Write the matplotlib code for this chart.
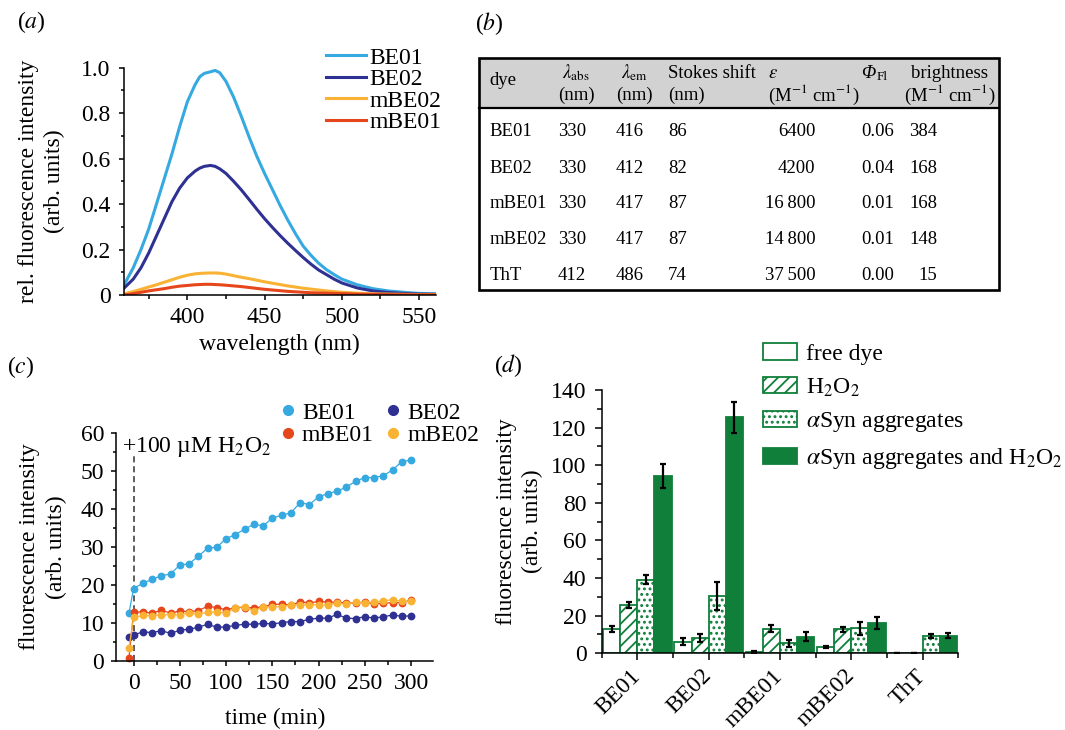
import numpy as np
import matplotlib
matplotlib.use("Agg")
import matplotlib.pyplot as plt
from matplotlib.patches import Rectangle, Patch
from matplotlib.lines import Line2D
from matplotlib.ticker import MultipleLocator, FixedLocator

plt.rcParams['font.family'] = ['Liberation Serif', 'DejaVu Serif']
plt.rcParams['mathtext.fontset'] = 'stix'
plt.rcParams['font.size'] = 17
plt.rcParams['hatch.linewidth'] = 1.3

W, H = 1065, 730

# colours
c_be01 = '#36a9e1'
c_be02 = '#2e3192'
c_mbe01 = '#e6461c'
c_mbe02 = '#f9b234'
green = '#0f7f3a'

# ---- (a) emission spectra ----
wl = [359, 365, 370, 375, 380, 385, 390, 395, 400, 405, 408, 411, 415, 418, 421, 425,
      430, 435, 440, 445, 450, 455, 460, 465, 470, 475, 480, 485, 490, 495, 500,
      510, 520, 530, 540, 550, 561]
em_be01 = [0.044, 0.12, 0.20, 0.29, 0.40, 0.51, 0.62, 0.74, 0.85, 0.925, 0.96, 0.975, 0.982,
           0.988, 0.978, 0.94, 0.87, 0.785, 0.695, 0.61, 0.535, 0.465, 0.395, 0.33, 0.27,
           0.215, 0.175, 0.14, 0.112, 0.09, 0.07, 0.045, 0.028, 0.018, 0.012, 0.007, 0.005]
em_be02 = [0.03, 0.07, 0.12, 0.185, 0.26, 0.335, 0.41, 0.47, 0.515, 0.545, 0.558, 0.566,
           0.57, 0.566, 0.555, 0.535, 0.50, 0.462, 0.42, 0.377, 0.336, 0.298, 0.262, 0.228,
           0.196, 0.165, 0.136, 0.11, 0.09, 0.07, 0.053, 0.031, 0.018, 0.011, 0.007, 0.004,
           0.003]
em_mbe02 = [0.005, 0.015, 0.025, 0.035, 0.045, 0.056, 0.067, 0.078, 0.087, 0.093, 0.095,
            0.096, 0.097, 0.097, 0.096, 0.092, 0.085, 0.078, 0.072, 0.065, 0.058, 0.052,
            0.046, 0.04, 0.035, 0.03, 0.026, 0.022, 0.018, 0.015, 0.012, 0.008, 0.005,
            0.004, 0.003, 0.002, 0.002]
em_mbe01 = [0.0, 0.006, 0.012, 0.018, 0.023, 0.028, 0.034, 0.039, 0.042, 0.045, 0.046,
            0.047, 0.047, 0.046, 0.045, 0.043, 0.04, 0.037, 0.033, 0.029, 0.025, 0.022,
            0.019, 0.016, 0.014, 0.012, 0.010, 0.009, 0.008, 0.007, 0.006, 0.004, 0.003,
            0.002, 0.001, 0.001, 0.001]

# ---- (b) table ----
tab_dyes = ['BE01', 'BE02', 'mBE01', 'mBE02', 'ThT']
tab_abs = ['330', '330', '330', '330', '412']
tab_em = ['416', '412', '417', '417', '486']
tab_stokes = ['86', '82', '87', '87', '74']
tab_eps = ['6400', '4200', '16\u2009800', '14\u2009800', '37\u2009500']
tab_qy = ['0.06', '0.04', '0.01', '0.01', '0.00']
tab_bright = ['384', '168', '168', '148', '15']

# ---- (c) kinetics ----
t_min = [-5, 0, 10, 20, 30, 40, 50, 60, 70, 80, 90, 100, 110, 120, 130, 140, 150, 160,
         170, 180, 190, 200, 210, 220, 230, 240, 250, 260, 270, 280, 290, 300]
kin_be01 = [12.5, 19.0, 20.4, 21.4, 22.4, 22.8, 25.2, 25.5, 27.5, 29.6, 29.9, 32.1, 33.2,
            34.6, 35.9, 35.5, 37.5, 38.3, 38.9, 41.6, 41.1, 43.1, 44.0, 44.6, 45.7, 47.2,
            48.2, 48.2, 48.7, 50.2, 52.4, 52.8]
kin_be02 = [6.3, 6.75, 7.6, 7.4, 7.9, 7.2, 8.0, 8.3, 8.8, 9.6, 8.8, 8.9, 9.3, 9.6, 9.6, 9.8,
            9.7, 10.0, 10.3, 10.3, 10.9, 11.2, 11.2, 12.2, 11.2, 11.1, 11.6, 11.2, 11.6,
            12.0, 11.7, 11.8]
kin_mbe01 = [0.7, 12.7, 12.9, 12.5, 13.3, 12.5, 13.1, 12.9, 13.2, 14.3, 14.0, 13.4, 14.0,
             14.0, 13.9, 14.2, 14.8, 14.9, 14.6, 15.5, 15.2, 15.6, 15.4, 15.4, 15.2, 15.2,
             15.4, 15.0, 15.1, 15.3, 15.3, 15.9]
kin_mbe02 = [3.3, 11.4, 11.9, 11.8, 12.1, 12.1, 12.1, 12.5, 12.2, 12.8, 12.8, 12.5, 14.0,
             14.2, 13.1, 14.2, 14.2, 14.2, 14.7, 14.7, 14.7, 14.7, 14.6, 15.2, 14.9, 15.4,
             15.3, 15.5, 15.7, 16.1, 15.6, 15.6]
h2o2_time = 0

# ---- (d) bars ----
groups = ['BE01', 'BE02', 'mBE01', 'mBE02', 'ThT']
free_dye = [12.8, 6.2, 0.7, 3.5, 0.3]
free_dye_err = [1.6, 1.8, 0.3, 0.6, 0.0]
with_h2o2 = [25.7, 8.3, 13.1, 12.8, 0.3]
with_h2o2_err = [1.8, 2.2, 2.0, 1.3, 0.0]
with_asyn = [39.0, 30.5, 5.3, 13.3, 9.2]
with_asyn_err = [2.4, 7.4, 2.0, 3.4, 1.2]
with_both = [94.4, 125.4, 8.9, 16.1, 9.4]
with_both_err = [6.5, 8.0, 2.4, 3.0, 1.5]


fig = plt.figure(figsize=(W / 100, H / 100), dpi=100)


def px_axes(l, t, r, b):
    return fig.add_axes([l / W, 1 - b / H, (r - l) / W, (b - t) / H])


def style_axes(ax, tl=3.6, lw=1.1):
    for s in ['top', 'right']:
        ax.spines[s].set_visible(False)
    for s in ['left', 'bottom']:
        ax.spines[s].set_linewidth(lw)
    ax.tick_params(which='major', direction='out', length=tl, width=lw, labelsize=17)
    ax.tick_params(which='minor', direction='out', length=tl * 0.7, width=lw)


# panel a
ax_a = px_axes(124, 67.7, 436, 295)
ax_a.plot(wl, em_be01, color=c_be01, lw=2.2, label='BE01')
ax_a.plot(wl, em_be02, color=c_be02, lw=2.2, label='BE02')
ax_a.plot(wl, em_mbe02, color=c_mbe02, lw=2.2, label='mBE02')
ax_a.plot(wl, em_mbe01, color=c_mbe01, lw=2.2, label='mBE01')
ax_a.set_xlim(359, 561)
ax_a.set_ylim(0, 1.0)
style_axes(ax_a)
ax_a.set_xticks([400, 450, 500, 550])
ax_a.xaxis.set_minor_locator(MultipleLocator(25))
ax_a.set_yticks([0, 0.2, 0.4, 0.6, 0.8, 1.0])
ax_a.set_yticklabels(['0', '0.2', '0.4', '0.6', '0.8', '1.0'])
ax_a.yaxis.set_minor_locator(MultipleLocator(0.1))
ax_a.tick_params(axis='x', pad=5)
ax_a.tick_params(axis='y', pad=6)
ax_a.set_xlabel('wavelength (nm)', fontsize=17)
ax_a.set_ylabel('rel. fluorescence intensity\n(arb. units)', fontsize=17, linespacing=1.3)
ax_a.xaxis.set_label_coords(0.498, -0.17)
ax_a.yaxis.set_label_coords(-0.19, 0.5)
ax_a.legend(loc='upper left', bbox_to_anchor=(326 / W, 1 - 47 / H),
            bbox_transform=fig.transFigure, frameon=False, fontsize=17,
            handlelength=1.7, handletextpad=0.15, labelspacing=0.0, borderpad=0,
            borderaxespad=0)

# panel b: table
ax_b = px_axes(478.8, 58.3, 999.3, 290)
ax_b.set_xlim(478.8, 999.3)
ax_b.set_ylim(290, 58.3)
ax_b.axis('off')
ax_b.add_patch(Rectangle((478.8, 58.3), 520.5, 49.4, facecolor='#d2d2d2', edgecolor='none'))
ax_b.add_patch(Rectangle((478.8, 58.3), 520.5, 231.7, fill=False, edgecolor='k', lw=1.9,
                         clip_on=False))
ax_b.plot([478.8, 999.3], [107.7, 107.7], color='k', lw=1.6, clip_on=False)
fs_t = 13.5
y1, y2 = 73, 95
ax_b.text(489.3, 80, 'dye', fontsize=fs_t, va='center')
ax_b.text(576, y1, r'$\lambda_{\rm abs}$', fontsize=fs_t, va='center', ha='center')
ax_b.text(576, y2, '(nm)', fontsize=fs_t, va='center', ha='center')
ax_b.text(634, y1, r'$\lambda_{\rm em}$', fontsize=fs_t, va='center', ha='center')
ax_b.text(634, y2, '(nm)', fontsize=fs_t, va='center', ha='center')
ax_b.text(668.2, y1, 'Stokes shift', fontsize=fs_t, va='center')
ax_b.text(668.2, y2, '(nm)', fontsize=fs_t, va='center')
ax_b.text(768.1, y1, r'$\varepsilon$', fontsize=fs_t, va='center')
ax_b.text(768.1, y2, '(M$^{-1}$ cm$^{-1}$)', fontsize=fs_t, va='center')
ax_b.text(861, y1, '\u03a6', fontsize=fs_t, fontstyle='italic', va='center')
ax_b.text(877, y1 + 4, 'Fl', fontsize=9.5, va='center')
ax_b.text(949.7, y1, 'brightness', fontsize=fs_t, va='center', ha='center')
ax_b.text(949.7, y2, '(M$^{-1}$ cm$^{-1}$)', fontsize=fs_t, va='center', ha='center')
row_y = [131.7, 168.3, 204, 240, 276]
for i, ry in enumerate(row_y):
    ax_b.text(489.3, ry, tab_dyes[i], fontsize=fs_t, va='center')
    ax_b.text(557.7, ry, tab_abs[i], fontsize=fs_t, va='center')
    ax_b.text(615.6, ry, tab_em[i], fontsize=fs_t, va='center')
    ax_b.text(668.2, ry, tab_stokes[i], fontsize=fs_t, va='center')
    ax_b.text(815.5, ry, tab_eps[i], fontsize=fs_t, va='center', ha='right')
    ax_b.text(861, ry, tab_qy[i], fontsize=fs_t, va='center')
    ax_b.text(937.5, ry, tab_bright[i], fontsize=fs_t, va='center', ha='right')

# panel c
ax_c = px_axes(116, 432.7, 433.3, 660.7)
ax_c.vlines(h2o2_time, 0, 54, colors='#333333', linestyles=(0, (4, 2.5)), lw=1.1)
for vals, col in [(kin_be01, c_be01), (kin_be02, c_be02), (kin_mbe01, c_mbe01),
                  (kin_mbe02, c_mbe02)]:
    ax_c.plot(t_min, vals, '-o', color=col, lw=0.9, ms=4.6, clip_on=False)
ax_c.set_xlim(-19, 324)
ax_c.set_ylim(0, 60)
style_axes(ax_c)
ax_c.set_xticks([0, 50, 100, 150, 200, 250, 300])
ax_c.xaxis.set_minor_locator(MultipleLocator(25))
ax_c.set_yticks([0, 10, 20, 30, 40, 50, 60])
ax_c.yaxis.set_minor_locator(MultipleLocator(5))
ax_c.tick_params(axis='x', pad=5)
ax_c.tick_params(axis='y', pad=5)
ax_c.set_xlabel('time (min)', fontsize=17)
ax_c.set_ylabel('fluorescence intensity\n(arb. units)', fontsize=17, linespacing=1.35)
ax_c.xaxis.set_label_coords(0.501, -0.205)
ax_c.yaxis.set_label_coords(-0.155, 0.5)
ax_c.text(-12.5, 55, '+100 µM H$_2$O$_2$', fontsize=17, va='baseline')
leg_c = [Line2D([], [], ls='none', marker='o', color=c_be01, ms=7),
         Line2D([], [], ls='none', marker='o', color=c_mbe01, ms=7),
         Line2D([], [], ls='none', marker='o', color=c_be02, ms=7),
         Line2D([], [], ls='none', marker='o', color=c_mbe02, ms=7)]
ax_c.legend(leg_c, ['BE01', 'mBE01', 'BE02', 'mBE02'], ncol=2, loc='upper left',
            bbox_to_anchor=(276 / W, 1 - 402 / H), bbox_transform=fig.transFigure,
            frameon=False, fontsize=17, handlelength=1.0, handletextpad=0.1,
            columnspacing=0.3, labelspacing=0.05, borderpad=0, borderaxespad=0)

# panel d
ax_d = px_axes(601.7, 390, 958.3, 653.3)
x = np.arange(len(groups))
bw = 0.24
ekw = dict(ecolor='k', elinewidth=1.6, capsize=2.4, capthick=1.6)
ax_d.bar(x - 1.5 * bw, free_dye, bw, yerr=free_dye_err, facecolor='white',
         edgecolor=green, lw=1.3, error_kw=ekw)
ax_d.bar(x - 0.5 * bw, with_h2o2, bw, yerr=with_h2o2_err, facecolor='white',
         edgecolor=green, lw=1.3, hatch='///', error_kw=ekw)
ax_d.bar(x + 0.5 * bw, with_asyn, bw, yerr=with_asyn_err, facecolor='white',
         edgecolor=green, lw=1.3, hatch='...', error_kw=ekw)
ax_d.bar(x + 1.5 * bw, with_both, bw, yerr=with_both_err, facecolor=green,
         edgecolor=green, lw=1.3, error_kw=ekw)
ax_d.set_xlim(-0.5, len(groups) - 0.5)
ax_d.set_ylim(0, 140)
style_axes(ax_d, tl=5)
ax_d.set_xticks(x)
ax_d.set_xticklabels(groups, rotation=45, ha='right', va='center', rotation_mode='anchor')
ax_d.xaxis.set_minor_locator(FixedLocator(np.arange(len(groups) + 1) - 0.5))
ax_d.set_yticks(np.arange(0, 141, 20))
ax_d.yaxis.set_minor_locator(MultipleLocator(10))
ax_d.tick_params(axis='x', pad=9)
ax_d.tick_params(axis='y', pad=6)
ax_d.set_ylabel('fluorescence intensity\n(arb. units)', fontsize=17, linespacing=1.3)
ax_d.yaxis.set_label_coords(-0.165, 0.5)
leg_d = [Patch(facecolor='white', edgecolor=green, lw=1.3),
         Patch(facecolor='white', edgecolor=green, lw=1.3, hatch='///'),
         Patch(facecolor='white', edgecolor=green, lw=1.3, hatch='...'),
         Patch(facecolor=green, edgecolor=green, lw=1.3)]
ax_d.legend(leg_d, ['free dye', 'H$_2$O$_2$', r'$\alpha$Syn aggregates',
                    r'$\alpha$Syn aggregates and H$_2$O$_2$'],
            loc='upper left', bbox_to_anchor=(763 / W, 1 - 343 / H),
            bbox_transform=fig.transFigure, frameon=False, fontsize=17,
            handlelength=1.45, handleheight=0.7, handletextpad=0.35,
            labelspacing=0.5, borderpad=0, borderaxespad=0)

# panel letters
fig.text(17 / W, 1 - 22 / H, '($a$)', fontsize=17, va='center')
fig.text(475 / W, 1 - 24 / H, '($b$)', fontsize=17, va='center')
fig.text(7 / W, 1 - 367 / H, '($c$)', fontsize=17, va='center')
fig.text(494 / W, 1 - 366 / H, '($d$)', fontsize=17, va='center')

fig.savefig('out.png', dpi=100)
